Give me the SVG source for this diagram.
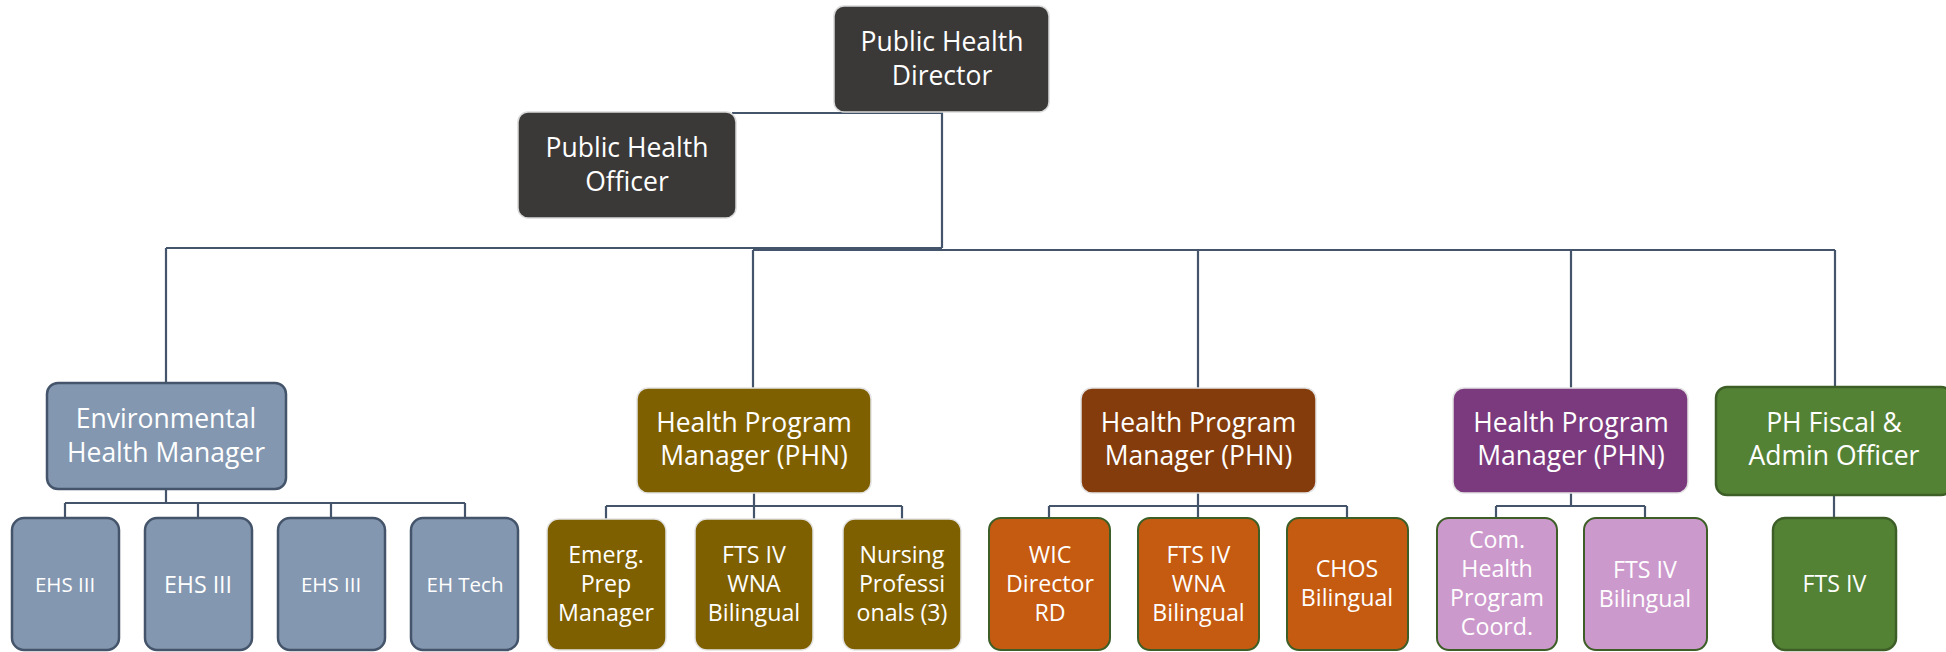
<svg xmlns="http://www.w3.org/2000/svg" width="1946" height="652" viewBox="0 0 1946 652">
<style>
text{font-family:"Open Sans","Liberation Sans",sans-serif;fill:#ffffff;text-anchor:middle}
.big{font-size:26.5px}
.sub{font-size:23.2px}
.sm{font-size:20.5px}
.dark{fill:#3b3938;stroke:#d9d9d9;stroke-width:1.5}
.env{fill:#8497b0;stroke:#44546a;stroke-width:2.5}
.olive{fill:#7f6000;stroke:#e3e3e3;stroke-width:1.5}
.rust{fill:#843c0c;stroke:#e3e3e3;stroke-width:1.5}
.purple{fill:#7b3a7d;stroke:#e3e3e3;stroke-width:1.5}
.green{fill:#548235;stroke:#3d5f27;stroke-width:2.5}
.orange{fill:#c55a11;stroke:#3d5f27;stroke-width:2}
.pink{fill:#cc99cc;stroke:#3d5f27;stroke-width:2}
.conn{fill:none;stroke:#44546a;stroke-width:2.2}
</style>
<rect width="1946" height="652" fill="#ffffff"/>
<g id="connectors" class="conn">
<path d="M942,112 V248 M732,113 H942"/>
<path d="M166,248 H942 M166,248 V383"/>
<path d="M753,250 H1835 M753,250 V388 M1198,250 V388 M1571,250 V388 M1835,250 V387"/>
<path d="M166,489 V503 M65,503 H465 M65,503 V518 M198,503 V518 M331,503 V518 M465,503 V518"/>
<path d="M754,493 V506 M606,506 H902 M606,506 V519 M754,506 V519 M902,506 V519"/>
<path d="M1198,493 V506 M1049,506 H1347 M1049,506 V518 M1198,506 V518 M1347,506 V518"/>
<path d="M1571,493 V506 M1496,506 H1645 M1496,506 V518 M1645,506 V518"/>
<path d="M1834,495 V518"/>
</g>
<g id="director"><rect class="dark" x="834" y="6" width="215" height="106" rx="10"/><text class="big" x="942" y="51">Public Health</text><text class="big" x="942" y="85">Director</text></g>
<g id="officer"><rect class="dark" x="518" y="112" width="218" height="106" rx="10"/><text class="big" x="627" y="157">Public Health</text><text class="big" x="627" y="191">Officer</text></g>
<g id="env-mgr"><rect class="env" x="47" y="383" width="239" height="106" rx="11"/><text class="big" x="166" y="428">Environmental</text><text class="big" x="166" y="462">Health Manager</text></g>
<g id="hpm-olive"><rect class="olive" x="637" y="388" width="234" height="105" rx="11"/><text class="big" x="754" y="432">Health Program</text><text class="big" x="754" y="465">Manager (PHN)</text></g>
<g id="hpm-rust"><rect class="rust" x="1081" y="388" width="235" height="105" rx="11"/><text class="big" x="1198.5" y="432">Health Program</text><text class="big" x="1198.5" y="465">Manager (PHN)</text></g>
<g id="hpm-purple"><rect class="purple" x="1453" y="388" width="235" height="105" rx="11"/><text class="big" x="1571" y="432">Health Program</text><text class="big" x="1571" y="465">Manager (PHN)</text></g>
<g id="fiscal"><rect class="green" x="1716" y="387" width="236" height="108" rx="11"/><text class="big" x="1834" y="432">PH Fiscal &amp;</text><text class="big" x="1834" y="465">Admin Officer</text></g>
<g id="ehs1"><rect class="env" x="12" y="518" width="107" height="132" rx="12"/><text class="sm" x="65" y="592">EHS III</text></g>
<g id="ehs2"><rect class="env" x="145" y="518" width="107" height="132" rx="12"/><text class="sub" x="198" y="593">EHS III</text></g>
<g id="ehs3"><rect class="env" x="278" y="518" width="107" height="132" rx="12"/><text class="sm" x="331" y="592">EHS III</text></g>
<g id="ehtech"><rect class="env" x="411" y="518" width="107" height="132" rx="12"/><text class="sm" x="465" y="592">EH Tech</text></g>
<g id="emerg"><rect class="olive" x="547" y="519" width="119" height="131" rx="12"/><text class="sub" x="606" y="563">Emerg.</text><text class="sub" x="606" y="592">Prep</text><text class="sub" x="606" y="621">Manager</text></g>
<g id="fts-wna-1"><rect class="olive" x="695" y="519" width="118" height="131" rx="12"/><text class="sub" x="754" y="563">FTS IV</text><text class="sub" x="754" y="592">WNA</text><text class="sub" x="754" y="621">Bilingual</text></g>
<g id="nursing"><rect class="olive" x="843" y="519" width="118" height="131" rx="12"/><text class="sub" x="902" y="563">Nursing</text><text class="sub" x="902" y="592">Professi</text><text class="sub" x="902" y="621">onals (3)</text></g>
<g id="wic"><rect class="orange" x="989" y="518" width="121" height="132" rx="12"/><text class="sub" x="1050" y="563">WIC</text><text class="sub" x="1050" y="592">Director</text><text class="sub" x="1050" y="621">RD</text></g>
<g id="fts-wna-2"><rect class="orange" x="1138" y="518" width="121" height="132" rx="12"/><text class="sub" x="1198.5" y="563">FTS IV</text><text class="sub" x="1198.5" y="592">WNA</text><text class="sub" x="1198.5" y="621">Bilingual</text></g>
<g id="chos"><rect class="orange" x="1287" y="518" width="121" height="132" rx="12"/><text class="sub" x="1347" y="577">CHOS</text><text class="sub" x="1347" y="606">Bilingual</text></g>
<g id="com-health"><rect class="pink" x="1437" y="518" width="120" height="132" rx="12"/><text class="sub" x="1497" y="548">Com.</text><text class="sub" x="1497" y="577">Health</text><text class="sub" x="1497" y="606">Program</text><text class="sub" x="1497" y="635">Coord.</text></g>
<g id="fts-bil"><rect class="pink" x="1584" y="518" width="123" height="132" rx="12"/><text class="sub" x="1645" y="578">FTS IV</text><text class="sub" x="1645" y="607">Bilingual</text></g>
<g id="fts-green"><rect class="green" x="1773" y="518" width="123" height="132" rx="12"/><text class="sub" x="1834.5" y="592">FTS IV</text></g>
</svg>
